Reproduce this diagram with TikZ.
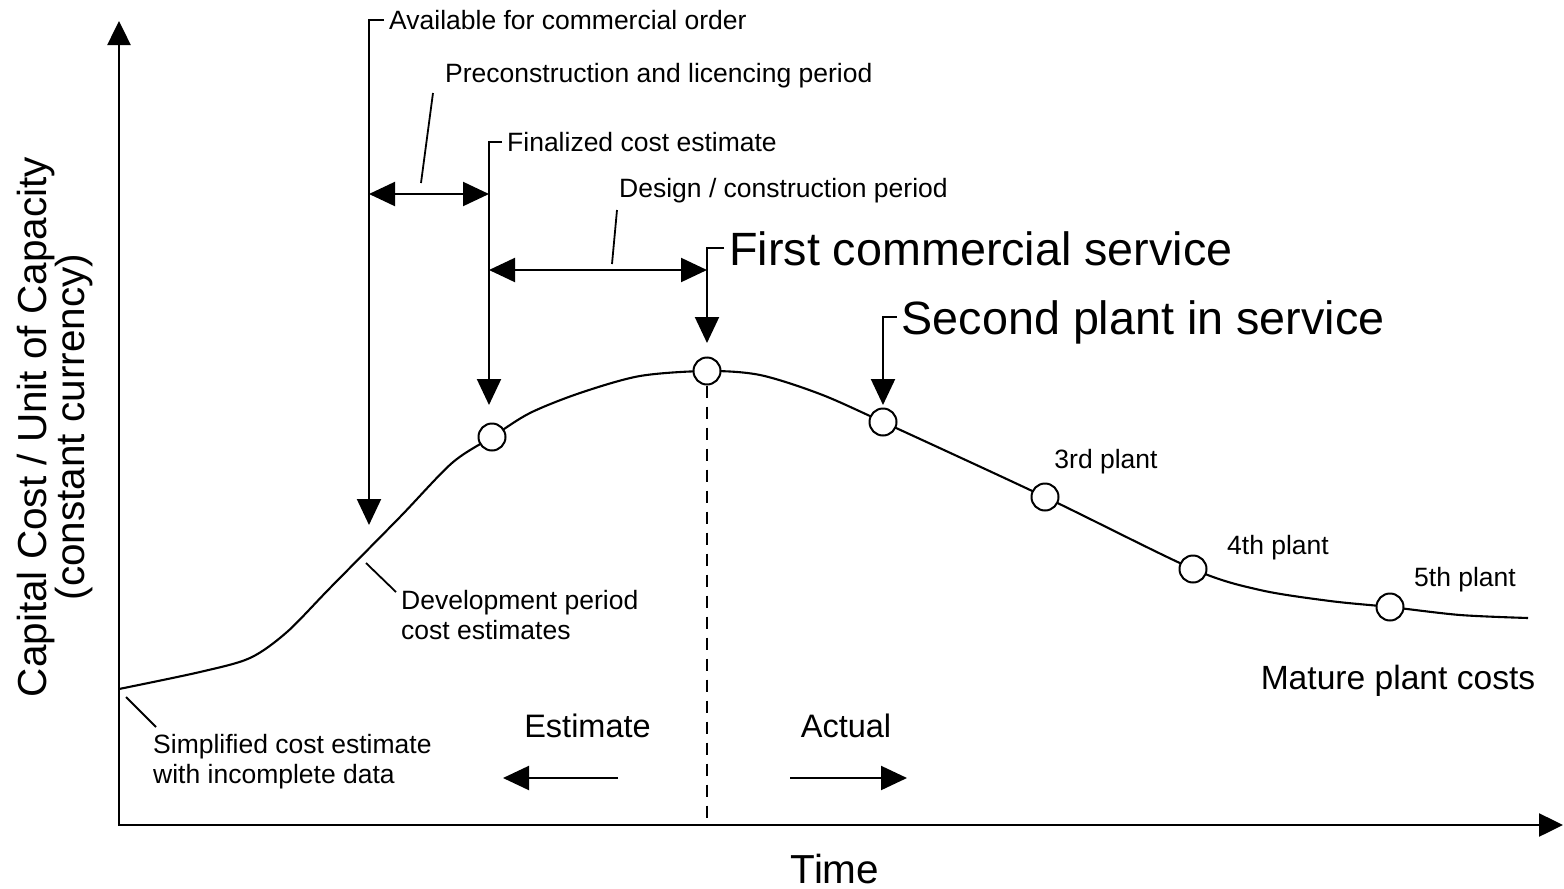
\documentclass[tikz,border=0pt]{standalone}
\usepackage{fontspec}
\setmainfont{Liberation Sans}
\usetikzlibrary{arrows.meta}
\begin{document}
\begin{tikzpicture}[x=1pt,y=-1pt,
  ln/.style={line width=2.1pt},
  arr/.style={ln,-{Triangle[length=26pt,width=24pt]}},
  darr/.style={ln,{Triangle[length=26pt,width=24pt]}-{Triangle[length=26pt,width=24pt]}},
  axisln/.style={line width=2.5pt,{Triangle[length=24pt,width=23pt]}-{Triangle[length=24pt,width=23pt]}},
  leader/.style={line width=1.8pt},
  dot/.style={circle,draw,line width=2pt,fill=white,minimum size=27pt,inner sep=0pt},
  small/.style={font=\fontsize{26.5}{29.5}\selectfont,inner sep=0pt},
  mid/.style={font=\fontsize{32.5}{36}\selectfont,inner sep=0pt},
  big/.style={font=\fontsize{40.5}{44}\selectfont,inner sep=0pt},
  huge/.style={font=\fontsize{46.7}{50}\selectfont,inner sep=0pt},
  tag/.style={inner xsep=5pt,inner ysep=0pt,text depth=0pt,anchor=base west},
]
\useasboundingbox (0,0) rectangle (1564,889);

% axes
\coordinate (O) at (119,825);
\coordinate (ytop) at (119,21);
\coordinate (xend) at (1563,825);
\draw[axisln] (ytop) -- (O) -- (xend);

% curve
\draw[ln] plot[smooth,tension=0.5] coordinates {
  (119,689) (200,672) (250,658) (287,632) (330,588) (400,517)
  (452,463) (492,437) (530,413) (580,393) (640,376)
  (707,371) (760,375) (820,394) (883,422) (1045,497) (1193,569)
  (1260,590) (1330,601) (1390,607) (1460,615) (1528,618)};

% dashed divider
\node[dot] (c2) at (707,371) {};
\draw[line width=1.8pt,dash pattern=on 12pt off 9pt] (c2.south) -- (c2 |- O);

% plant circles
\node[dot] (c1) at (492,437) {};
\node[dot] (c3) at (883,422) {};
\node[dot] (c4) at (1045,497) {};
\node[dot] (c5) at (1193,569) {};
\node[dot] (c6) at (1390,607) {};

% milestone labels with bracket arrows
\node[small,tag] (avail) at (384,29.5) {Available for commercial order};
\coordinate (availtip) at (369,525);
\draw[arr] (avail.west) -| (availtip);

\node[small,tag] (final) at (502,151.5) {Finalized cost estimate};
\coordinate (finaltip) at (489,405);
\draw[arr] (final.west) -| (finaltip);

\node[huge,tag] (first) at (724,265) {First commercial service};
\coordinate (firsttip) at (707,343);
\draw[arr] (first.west) -| (firsttip);

\node[huge,tag] (second) at (896.5,334) {Second plant in service};
\coordinate (secondtip) at (883,405);
\draw[arr] (second.west) -| (secondtip);

% periods
\coordinate (preL) at (369,194);
\coordinate (preR) at (489,194);
\draw[darr] (preL) -- (preR);
\node[small,anchor=base west] (pre) at (445,82.5) {Preconstruction and licencing period};
\coordinate (preA) at (433,93);
\coordinate (preB) at (421,183);
\draw[leader] (preA) -- (preB);

\coordinate (desL) at (489,270);
\coordinate (desR) at (707,270);
\draw[darr] (desL) -- (desR);
\node[small,anchor=base west] (des) at (619,197.5) {Design / construction period};
\coordinate (desA) at (617,210);
\coordinate (desB) at (612,264);
\draw[leader] (desA) -- (desB);

% development / simplified notes
\node[small,align=left,anchor=north west] (dev) at (401,590.2) {Development period\\cost estimates};
\coordinate (devA) at (366,563);
\coordinate (devB) at (396,592);
\draw[leader] (devA) -- (devB);

\node[small,align=left,anchor=north west] (simp) at (153,734.2) {Simplified cost estimate\\with incomplete data};
\coordinate (simA) at (126,697);
\coordinate (simB) at (156,727);
\draw[leader] (simA) -- (simB);

% plant labels
\node[small,anchor=base] (p3) at (1106,468.5) {3rd plant};
\node[small,anchor=base] (p4) at (1278,554.5) {4th plant};
\node[small,anchor=base] (p5) at (1465,586.5) {5th plant};
\node[mid,anchor=base,font=\fontsize{33.6}{37}\selectfont] (mature) at (1398,689) {Mature plant costs};

% estimate / actual
\node[mid,anchor=base] (est) at (587.5,737.5) {Estimate};
\coordinate (estA) at (618,778);
\coordinate (estB) at (503,778);
\draw[arr] (estA) -- (estB);
\node[mid,anchor=base] (act) at (846,737.5) {Actual};
\coordinate (actA) at (790,778);
\coordinate (actB) at (907,778);
\draw[arr] (actA) -- (actB);

% axis labels
\node[big,anchor=base] (time) at (835,883.5) {Time};
\node[big,rotate=90,anchor=base] (ylab1) at (46,427) {Capital Cost / Unit of Capacity};
\node[big,rotate=90,anchor=base] (ylab2) at (84,427) {(constant currency)};
\end{tikzpicture}
\end{document}
